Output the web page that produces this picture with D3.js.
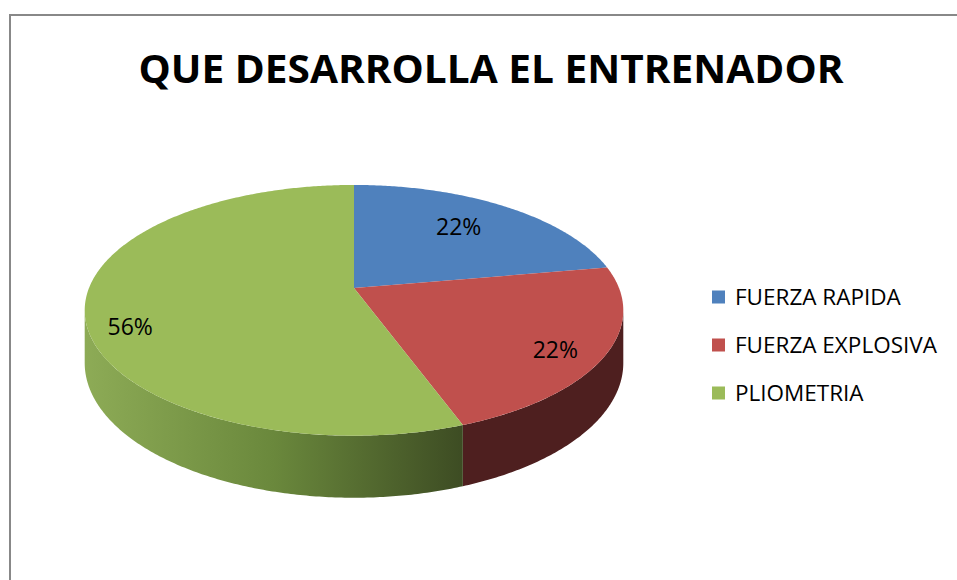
<!DOCTYPE html>
<html lang="es">
<head>
  <meta charset="UTF-8">
  <title>QUE DESARROLLA EL ENTRENADOR</title>
  <script src="https://d3js.org/d3.v7.min.js"></script>
  <style>
    html, body { margin: 0; padding: 0; background: #fff; }
    svg { display: block; font-family: "Open Sans", "Liberation Sans", sans-serif; }
  </style>
</head>
<body>
  <svg id="chart" width="957" height="580"></svg>

  <script>
    // data (22% / 22% / 56%)
    const categories = ["FUERZA RAPIDA", "FUERZA EXPLOSIVA", "PLIOMETRIA"];
    const values     = [2, 2, 5];
    const colors     = ["#4f81bd", "#c0504d", "#9bbb59"];
    const sideColors = ["#2c4a6e", "#4e1f1f", null]; // null -> gradient

    const svg = d3.select("#chart");

    // chart frame
    svg.append("rect")
      .attr("x", 10).attr("y", 15)
      .attr("width", 1000).attr("height", 1000)
      .attr("fill", "none")
      .attr("stroke", "#888")
      .attr("stroke-width", 2);

    // title
    svg.append("text")
      .attr("x", 491).attr("y", 83)
      .attr("text-anchor", "middle")
      .attr("font-weight", "bold")
      .attr("font-size", 39)
      .attr("textLength", 705)
      .attr("lengthAdjust", "spacingAndGlyphs")
      .attr("fill", "#000")
      .text("QUE DESARROLLA EL ENTRENADOR");

    // 3D pie projection (simple perspective)
    const cx = 354, cy = 288, Rx = 265, Ry = 121.4, k = 0.178, depth = 51;
    function proj(a, r, h) {
      const X = r * Math.sin(a), Z = -r * Math.cos(a);
      const w = 1 - k * Z;
      return [cx + Rx * X / w, cy + (Ry * Z + depth * h) / w];
    }
    const thetaR = Math.acos(-k), thetaL = 2 * Math.PI - thetaR;

    const arcs = d3.pie().sort(null).value(d => d)(values);
    const line = d3.line();

    function arcPoints(a0, a1, r, h) {
      const n = Math.max(2, Math.ceil((a1 - a0) / 0.01));
      return d3.range(n + 1).map(i => proj(a0 + (a1 - a0) * i / n, r, h));
    }

    // gradient for the green wall
    const defs = svg.append("defs");
    const grad = defs.append("linearGradient")
      .attr("id", "greenSide")
      .attr("gradientUnits", "userSpaceOnUse")
      .attr("x1", 85).attr("y1", 0).attr("x2", 463).attr("y2", 0);
    grad.append("stop").attr("offset", 0).attr("stop-color", "#8dab56");
    grad.append("stop").attr("offset", 0.5).attr("stop-color", "#6a883c");
    grad.append("stop").attr("offset", 1).attr("stop-color", "#3d4c23");

    // walls (only the visible front part)
    const walls = svg.append("g");
    arcs.forEach((d, i) => {
      const a0 = Math.max(d.startAngle, thetaR);
      const a1 = Math.min(d.endAngle, thetaL);
      if (a1 <= a0) return;
      const pts = arcPoints(a0, a1, 1, 0).concat(arcPoints(a0, a1, 1, 1).reverse());
      walls.append("path")
        .attr("d", line(pts) + "Z")
        .attr("fill", sideColors[i] || "url(#greenSide)");
    });

    // top faces
    const tops = svg.append("g");
    arcs.forEach((d, i) => {
      const pts = [proj(0, 0, 0)].concat(arcPoints(d.startAngle, d.endAngle, 1, 0));
      tops.append("path")
        .attr("d", line(pts) + "Z")
        .attr("fill", colors[i]);
    });

    // data labels
    const total = d3.sum(values);
    const labelR  = [0.70, 0.84, 0.855];
    const labelDa = [-0.03, 0.07, -0.19];
    arcs.forEach((d, i) => {
      const mid = (d.startAngle + d.endAngle) / 2 + labelDa[i];
      const p = proj(mid, labelR[i], 0);
      svg.append("text")
        .attr("x", p[0]).attr("y", p[1])
        .attr("dy", "0.35em")
        .attr("text-anchor", "middle")
        .attr("font-size", 23)
        .attr("fill", "#000")
        .text(d3.format(".0%")(d.value / total));
    });

    // legend
    const legend = svg.append("g");
    const ly = d3.scalePoint().domain(categories).range([297, 393]);
    categories.forEach((c, i) => {
      legend.append("rect")
        .attr("x", 712).attr("y", ly(c) - 6.5)
        .attr("width", 13).attr("height", 13)
        .attr("fill", colors[i]);
      legend.append("text")
        .attr("x", 735).attr("y", ly(c))
        .attr("dy", "0.35em")
        .attr("font-size", 22.5)
        .attr("fill", "#000")
        .text(c);
    });
  </script>
</body>
</html>
